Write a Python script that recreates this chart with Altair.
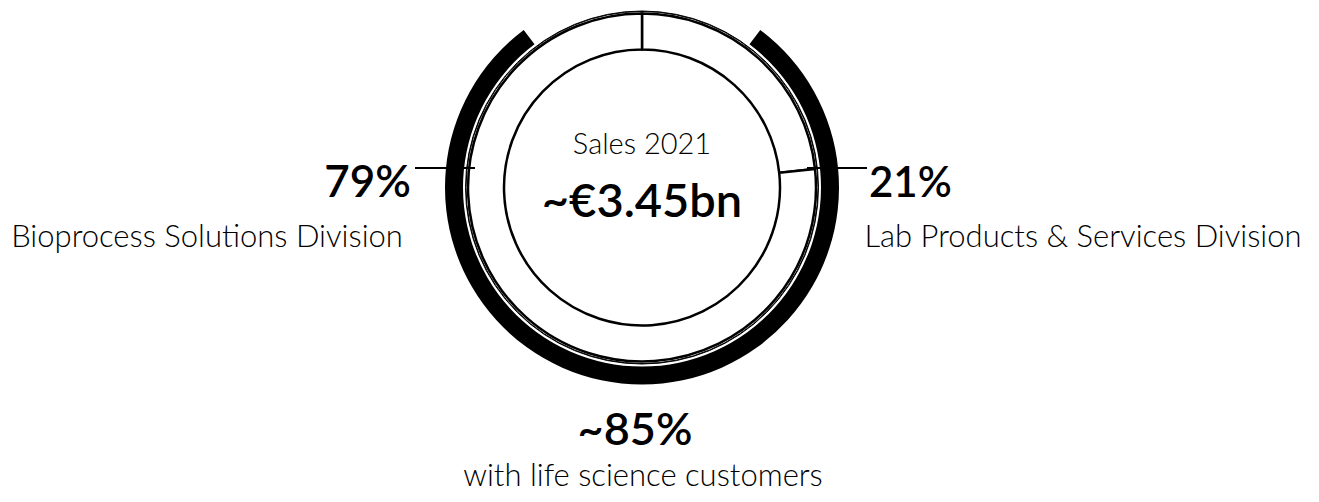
import altair as alt
import pandas as pd

# ---- data ----
outer_parts = ["gap_a", "life science customers", "gap_b"]
outer_share = [10.25, 79.5, 10.25]          # black outer arc, centred at bottom

ring_parts = ["Lab Products & Services Division", "Bioprocess Solutions Division"]
ring_share = [23.3, 76.7]                   # white ring segments, clockwise from top

center_lines = ["Sales 2021", "~€3.45bn"]
pct_labels = ["79%", "21%", "~85%"]
name_labels = ["Bioprocess Solutions Division", "Lab Products & Services Division",
               "with life science customers"]

W, H = 1303, 486
CX, CY = 634, 179.5
FONT = "Lato"

outer_df = pd.DataFrame({"part": outer_parts, "share": outer_share,
                         "idx": list(range(len(outer_parts)))})
ring_df = pd.DataFrame({"part": ring_parts, "share": ring_share,
                        "idx": list(range(len(ring_parts)))})
one = pd.DataFrame({"k": [0]})

outer = alt.Chart(outer_df).mark_arc(innerRadius=179, outerRadius=197).encode(
    theta=alt.Theta("share:Q", stack=True),
    order=alt.Order("idx:Q"),
    color=alt.Color("part:N", legend=None,
                    scale=alt.Scale(domain=outer_parts,
                                    range=["transparent", "#000000", "transparent"])),
    x=alt.value(CX), y=alt.value(CY),
)

ring_outline = alt.Chart(one).mark_arc(innerRadius=176, outerRadius=176.5,
                                       fill="white", stroke="black", strokeWidth=1).encode(
    theta=alt.value(6.2832), x=alt.value(CX), y=alt.value(CY),
)

ring = alt.Chart(ring_df).mark_arc(innerRadius=138, outerRadius=174,
                                   fill="white", stroke="black", strokeWidth=2.5).encode(
    theta=alt.Theta("share:Q", stack=True),
    order=alt.Order("idx:Q"),
    x=alt.value(CX), y=alt.value(CY),
)

left_rule = alt.Chart(one).mark_rule(color="black", strokeWidth=2).encode(
    x=alt.value(407), x2=alt.value(467), y=alt.value(160))
right_rule = alt.Chart(one).mark_rule(color="black", strokeWidth=2).encode(
    x=alt.value(799), x2=alt.value(859), y=alt.value(160))


def txt(s, x, y, size, weight, align="center", baseline="alphabetic"):
    return alt.Chart(pd.DataFrame({"t": [s]})).mark_text(
        font=FONT, fontSize=size, fontWeight=weight, color="black",
        align=align, baseline=baseline).encode(
        text="t:N", x=alt.value(x), y=alt.value(y))


texts = [
    txt(center_lines[0], CX, 146, 29, 300),
    txt(center_lines[1], CX, 209, 47, 600),
    txt(pct_labels[0], 403, 189, 44, 600, align="right"),
    txt(pct_labels[1], 861, 189, 42, 600, align="left"),
    txt(pct_labels[2], 627, 437, 45, 600),
    txt(name_labels[0], 199, 230, 31, 300, baseline="middle"),
    txt(name_labels[1], 1075, 230, 31, 300, baseline="middle"),
    txt(name_labels[2], 635, 485, 31, 300, baseline="bottom"),
]

chart = alt.layer(outer, ring_outline, ring, left_rule, right_rule, *texts).properties(
    width=W, height=H, padding=0, background="white",
    autosize=alt.AutoSizeParams(type="none"),
).configure_view(stroke=None)

chart.save("out.html", embed_options={"renderer": "svg", "actions": False})
